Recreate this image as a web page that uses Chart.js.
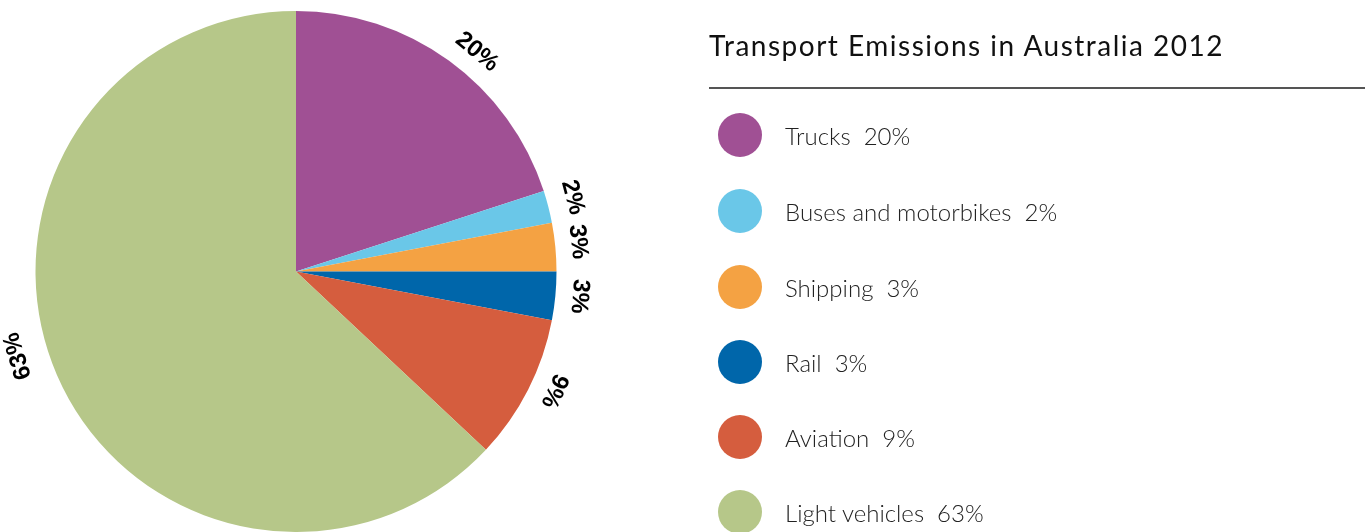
<!DOCTYPE html>
<html>
<head>
<meta charset="utf-8">
<script src="https://cdn.jsdelivr.net/npm/chart.js@4"></script>
<style>
  body { margin: 0; background: #fff; width: 1370px; height: 532px; overflow: hidden; position: relative; }
  #pie { position: absolute; left: 0; top: 0; }
  #title { position: absolute; left: 709px; top: 28px; font: 400 28px Lato, sans-serif; letter-spacing: 1.5px; color: #111; white-space: nowrap; }
  #rule { position: absolute; left: 709px; top: 87px; width: 656px; height: 2px; background: #555; }
  .item { position: absolute; left: 718px; height: 44px; display: flex; align-items: center; white-space: nowrap; }
  .dot { width: 44px; height: 44px; border-radius: 50%; margin-right: 23px; }
  .txt { font: 300 24px Lato, sans-serif; color: #222; }
</style>
</head>
<body>
<canvas id="pie" width="1370" height="532"></canvas>
<div id="title">Transport Emissions in Australia 2012</div>
<div id="rule"></div>
<div id="legend"></div>
<script>
var categories = ["Trucks", "Buses and motorbikes", "Shipping", "Rail", "Aviation", "Light vehicles"];
var shares = [20, 2, 3, 3, 9, 63];
var colours = ["#a05094", "#6ac7e8", "#f4a243", "#0066aa", "#d55d3e", "#b6c789"];

// legend on the right
var legendTops = [113, 189, 265, 340, 415, 490];
var legend = document.getElementById("legend");
for (var i = 0; i < categories.length; i++) {
  var row = document.createElement("div");
  row.className = "item";
  row.style.top = legendTops[i] + "px";
  row.innerHTML = '<div class="dot" style="background:' + colours[i] + '"></div>' +
    '<span class="txt">' + categories[i] + '&nbsp; ' + shares[i] + '%</span>';
  legend.appendChild(row);
}

// small hand nudges (degrees) the original labels have off the slice middle
var labelNudge = [3.5, -0.6, -0.6, -0.4, -2.2, 6.5];
var labelGap = [24, 26, 23, 24, 24, 30];

// percent labels rotated around the rim
var rimLabels = {
  id: "rimLabels",
  afterDatasetsDraw: function(chart) {
    var ctx = chart.ctx;
    var meta = chart.getDatasetMeta(0);
    ctx.save();
    ctx.font = "bold 24px 'Liberation Sans', Arial, sans-serif";
    ctx.fillStyle = "#000";
    ctx.textAlign = "center";
    ctx.textBaseline = "middle";
    meta.data.forEach(function(arc, i) {
      var mid = (arc.startAngle + arc.endAngle) / 2 + labelNudge[i] * Math.PI / 180;
      var r = arc.outerRadius + labelGap[i];
      ctx.save();
      ctx.translate(arc.x + Math.cos(mid) * r, arc.y + Math.sin(mid) * r);
      ctx.rotate(mid + Math.PI / 2);
      ctx.fillText(shares[i] + "%", 0, 0);
      ctx.restore();
    });
    ctx.restore();
  }
};

new Chart(document.getElementById("pie"), {
  type: "pie",
  data: {
    labels: categories,
    datasets: [{
      data: shares,
      backgroundColor: colours,
      borderWidth: 0
    }]
  },
  options: {
    responsive: false,
    animation: false,
    layout: { padding: { left: 35, top: 11, right: 813, bottom: -1 } },
    plugins: {
      legend: { display: false },
      tooltip: { enabled: false }
    }
  },
  plugins: [rimLabels]
});
</script>
</body>
</html>
